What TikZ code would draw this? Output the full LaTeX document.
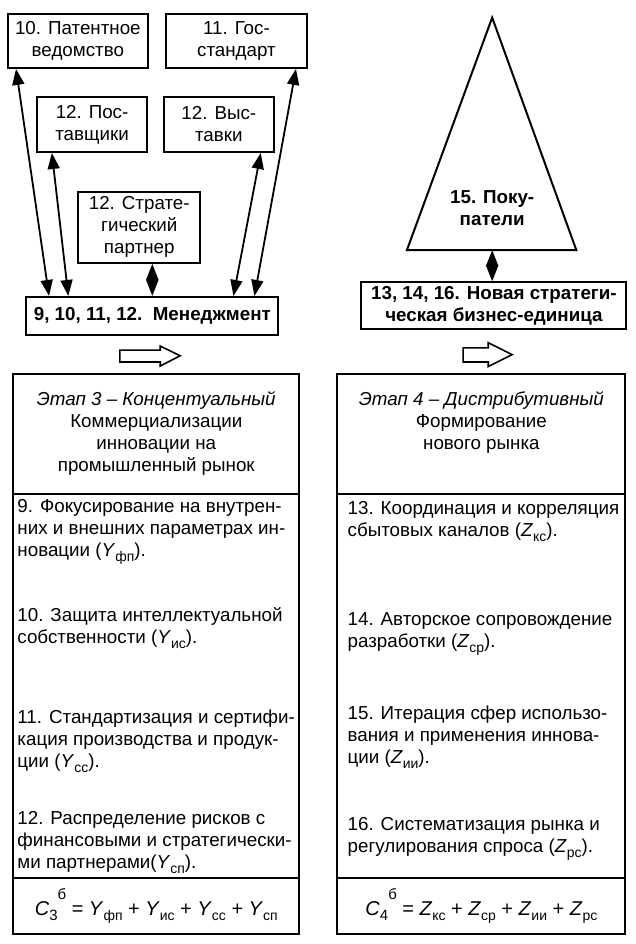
\documentclass[tikz,border=0pt]{standalone}
\usepackage{fontspec}
\setmainfont{Liberation Sans}
\usetikzlibrary{arrows.meta}
\newcommand{\sbx}[2]{\textit{#1}\raisebox{-0.5ex}{\fontsize{7}{7}\selectfont #2}}

\begin{document}
\begin{tikzpicture}[every node/.style={font=\fontsize{9.4}{11}\selectfont},
  box/.style={draw,line width=1pt,align=center,inner sep=2pt},
  bold/.style={font=\fontsize{9.4}{11}\selectfont\bfseries},
  item/.style={anchor=west,align=left,inner sep=0pt},
  link/.style={{Triangle[length=8pt,width=6pt]}-{Triangle[length=8pt,width=6pt]},line width=0.9pt}]
\useasboundingbox (0,0) rectangle (11.19,16.61);
% upper left: partners round the management
\node[box,minimum width=2.46cm,minimum height=0.95cm] (pat) at (1.37,15.89) {10. Патентное\\ведомство};
\node[box,minimum width=2.48cm,minimum height=0.95cm] (gost) at (4.16,15.89) {11. Гос-\\стандарт};
\node[box,minimum width=1.94cm,minimum height=0.97cm] (post) at (1.62,14.42) {12. Пос-\\тавщики};
\node[box,minimum width=1.94cm,minimum height=0.97cm] (vyst) at (3.85,14.42) {12. Выс-\\тавки};
\node[box,minimum width=2.15cm,minimum height=1.25cm] (part) at (2.45,12.61) {12. Страте-\\гический\\партнер};
\node[box,bold,minimum width=4.44cm,minimum height=0.67cm] (mgr) at (2.68,11.05) {9, 10, 11, 12.\ \ Менеджмент};
\draw[link] ([xshift=0.42cm]mgr.north west) -- ([xshift=0.16cm]pat.south west);
\draw[link] ([xshift=0.76cm]mgr.north west) -- ([xshift=0.28cm]post.south west);
\draw[link] (mgr.north) -- (mgr.north |- part.south);
\draw[link] ([xshift=-0.81cm]mgr.north east) -- ([xshift=-0.25cm]vyst.south east);
\draw[link] ([xshift=-0.44cm]mgr.north east) -- ([xshift=-0.21cm]gost.south east);
% upper right: buyers
\draw[line width=1pt] (8.66,16.30) -- (7.16,12.21) -- (10.14,12.21) -- cycle;
\coordinate (base) at (8.66,12.21);
\node[bold,align=center] (buy) at (8.66,12.95) {15. Поку-\\патели};
\node[box,bold,minimum width=4.66cm,minimum height=0.77cm] (sbu) at (8.69,11.23) {13, 14, 16. Новая стратеги-\\ческая бизнес-единица};
\draw[link] (base) -- (base |- sbu.north);
% hollow arrows
\draw[line width=0.8pt] (2.11,10.45) -- (2.82,10.45) -- (2.82,10.52) -- (3.17,10.35) -- (2.82,10.17) -- (2.82,10.24) -- (2.11,10.24) -- cycle;
\draw[line width=0.8pt] (8.15,10.49) -- (8.59,10.49) -- (8.59,10.58) -- (9.01,10.37) -- (8.59,10.16) -- (8.59,10.24) -- (8.15,10.24) -- cycle;
% stage 3
\node[box,minimum width=5.03cm,minimum height=2.11cm] (head3) at (2.75,8.98) {\textit{Этап 3 – Концентуальный}\\Коммерциализации\\инновации на\\промышленный рынок};
\node[box,minimum width=5.03cm,minimum height=6.76cm] (body3) at (2.75,4.54) {};
\node[box,minimum width=5.03cm,minimum height=0.99cm,font=\fontsize{10}{12}\selectfont] (sum3) at (2.75,0.67) {\textit{C}\raisebox{-0.5ex}{\fontsize{7.5}{7.5}\selectfont 3}\raisebox{1.5ex}{\fontsize{7.5}{7.5}\selectfont б} = \sbx{Y}{фп} + \sbx{Y}{ис} + \sbx{Y}{сс} + \sbx{Y}{сп}};
\node[item] (i9) at (0.30,7.25) {9. Фокусирование на внутрен-\\них и внешних параметрах ин-\\новации (\sbx{Y}{фп}).};
\node[item] (i10) at (0.30,5.56) {10. Защита интеллектуальной\\собственности (\sbx{Y}{ис}).};
\node[item] (i11) at (0.30,3.56) {11. Стандартизация и сертифи-\\кация производства и продук-\\ции (\sbx{Y}{сс}).};
\node[item] (i12) at (0.30,1.78) {12. Распределение рисков с\\финансовыми и стратегически-\\ми партнерами(\sbx{Y}{сп}).};
% stage 4
\node[box,minimum width=5.07cm,minimum height=2.11cm] (head4) at (8.47,8.98) {\textit{Этап 4 – Дистрибутивный}\\Формирование\\нового рынка\\[0.5ex]};
\node[box,minimum width=5.07cm,minimum height=6.76cm] (body4) at (8.47,4.54) {};
\node[box,minimum width=5.07cm,minimum height=0.99cm,font=\fontsize{10}{12}\selectfont] (sum4) at (8.47,0.67) {\textit{C}\raisebox{-0.5ex}{\fontsize{7.5}{7.5}\selectfont 4}\raisebox{1.5ex}{\fontsize{7.5}{7.5}\selectfont б} = \sbx{Z}{кс} + \sbx{Z}{ср} + \sbx{Z}{ии} + \sbx{Z}{рс}};
\node[item] (i13) at (6.11,7.44) {13. Координация и корреляция\\сбытовых каналов (\sbx{Z}{кс}).};
\node[item] (i14) at (6.11,5.46) {14. Авторское сопровождение\\разработки (\sbx{Z}{ср}).};
\node[item] (i15) at (6.11,3.64) {15. Итерация сфер использо-\\вания и применения иннова-\\ции (\sbx{Z}{ии}).};
\node[item] (i16) at (6.11,1.85) {16. Систематизация рынка и\\регулирования спроса (\sbx{Z}{рс}).};
\end{tikzpicture}
\end{document}
